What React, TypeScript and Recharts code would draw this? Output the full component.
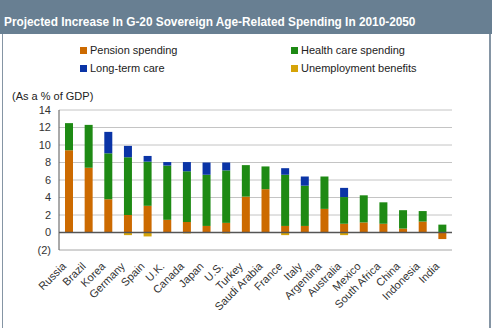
import React from 'react';
import { BarChart, Bar, XAxis, YAxis, CartesianGrid, ReferenceLine } from 'recharts';

const countries = ['Russia', 'Brazil', 'Korea', 'Germany', 'Spain', 'U.K.', 'Canada', 'Japan', 'U.S.', 'Turkey', 'Saudi Arabia', 'France', 'Italy', 'Argentina', 'Australia', 'Mexico', 'South Africa', 'China', 'Indonesia', 'India'];
const pension = [9.4, 7.4, 3.8, 2.0, 3.05, 1.45, 1.2, 0.75, 1.1, 4.1, 4.95, 0.75, 0.75, 2.7, 1.0, 1.15, 1.0, 0.45, 1.25, -0.75];
const health = [3.1, 4.9, 5.25, 6.6, 5.05, 6.2, 5.8, 5.85, 6.0, 3.6, 2.6, 5.85, 4.6, 3.7, 3.05, 3.1, 2.45, 2.1, 1.2, 0.9];
const longTerm = [0, 0, 2.45, 1.3, 0.65, 0.4, 1.05, 1.4, 0.9, 0, 0, 0.75, 1.05, 0, 1.05, 0, 0, 0, 0, 0];
const unemployment = [0, 0, 0, -0.3, -0.45, 0, -0.1, 0, -0.1, 0, 0, -0.3, 0, 0, -0.3, 0, 0, 0, 0, 0];
const yTicks = [-2, 0, 2, 4, 6, 8, 10, 12, 14];

const seriesNames = ['Pension spending', 'Health care spending', 'Long-term care', 'Unemployment benefits'];
const colors = ['#cc6a00', '#1e8a14', '#0a34a6', '#d6a408'];

const data = countries.map((c, i) => ({
  name: c,
  pension: pension[i],
  health: health[i],
  ltc: longTerm[i],
  unemp: unemployment[i],
}));

const font = 'Arial, "Liberation Sans", sans-serif';

const XTick = (props: any) => {
  const { x, y, payload } = props;
  const ax = x - 2;
  const ay = y + 9;
  return (
    <text
      x={ax}
      y={ay}
      transform={`rotate(-45 ${ax} ${ay})`}
      textAnchor="end"
      fontSize={11}
      fontFamily={font}
      fill="#333"
    >
      {payload.value}
    </text>
  );
};

const legendItems = [
  { n: seriesNames[0], c: colors[0], l: 80, t: 44 },
  { n: seriesNames[1], c: colors[1], l: 291, t: 44 },
  { n: seriesNames[2], c: colors[2], l: 80, t: 62 },
  { n: seriesNames[3], c: colors[3], l: 291, t: 62 },
];

export default function App() {
  return (
    <div style={{ position: 'absolute', left: 0, top: 0, width: 492, height: 328, background: '#fff', overflow: 'hidden' }}>
      <div style={{ position: 'absolute', left: 0, top: 0, width: 492, height: 34, background: '#687f92' }} />
      <div style={{ position: 'absolute', left: 4, top: 15, fontFamily: font, fontWeight: 'bold', fontSize: 12, color: '#fff', whiteSpace: 'nowrap', transform: 'scaleX(0.985)', transformOrigin: 'left top' }}>
        Projected Increase In G-20 Sovereign Age-Related Spending In 2010-2050
      </div>
      <div style={{ position: 'absolute', left: 2, top: 34, width: 1, height: 294, background: '#8595a4' }} />
      <div style={{ position: 'absolute', left: 489, top: 34, width: 2, height: 294, background: '#8595a4' }} />
      {legendItems.map((it) => (
        <div key={it.n} style={{ position: 'absolute', left: it.l, top: it.t, display: 'flex', alignItems: 'center', fontFamily: font, fontSize: 11, color: '#222', whiteSpace: 'nowrap' }}>
          <span style={{ display: 'inline-block', width: 7, height: 7, background: it.c, marginRight: 3 }} />
          {it.n}
        </div>
      ))}
      <div style={{ position: 'absolute', left: 12, top: 90, fontFamily: font, fontSize: 11, color: '#222' }}>(As a % of GDP)</div>
      <div style={{ position: 'absolute', left: 0, top: 0 }}>
        <BarChart
          width={492}
          height={328}
          data={data}
          stackOffset="sign"
          margin={{ top: 110, right: 40, bottom: 0, left: 9 }}
        >
          <CartesianGrid vertical={false} stroke="#c4c4c4" />
          <XAxis
            dataKey="name"
            interval={0}
            tick={<XTick />}
            tickLine={false}
            axisLine={{ stroke: '#c4c4c4' }}
            height={78}
          />
          <YAxis
            width={50}
            domain={[-2, 14]}
            ticks={yTicks}
            interval={0}
            tickLine={false}
            axisLine={{ stroke: '#555' }}
            tick={{ fontSize: 11, fontFamily: font, fill: '#333' }}
            tickFormatter={(v: number) => (v < 0 ? `(${-v})` : `${v}`)}
          />
          <Bar dataKey="pension" name={seriesNames[0]} stackId="a" fill={colors[0]} barSize={8} isAnimationActive={false} />
          <Bar dataKey="health" name={seriesNames[1]} stackId="a" fill={colors[1]} barSize={8} isAnimationActive={false} />
          <Bar dataKey="ltc" name={seriesNames[2]} stackId="a" fill={colors[2]} barSize={8} isAnimationActive={false} />
          <Bar dataKey="unemp" name={seriesNames[3]} stackId="a" fill={colors[3]} barSize={8} isAnimationActive={false} />
          <ReferenceLine y={0} stroke="#555" strokeWidth={1.5} />
        </BarChart>
      </div>
    </div>
  );
}
